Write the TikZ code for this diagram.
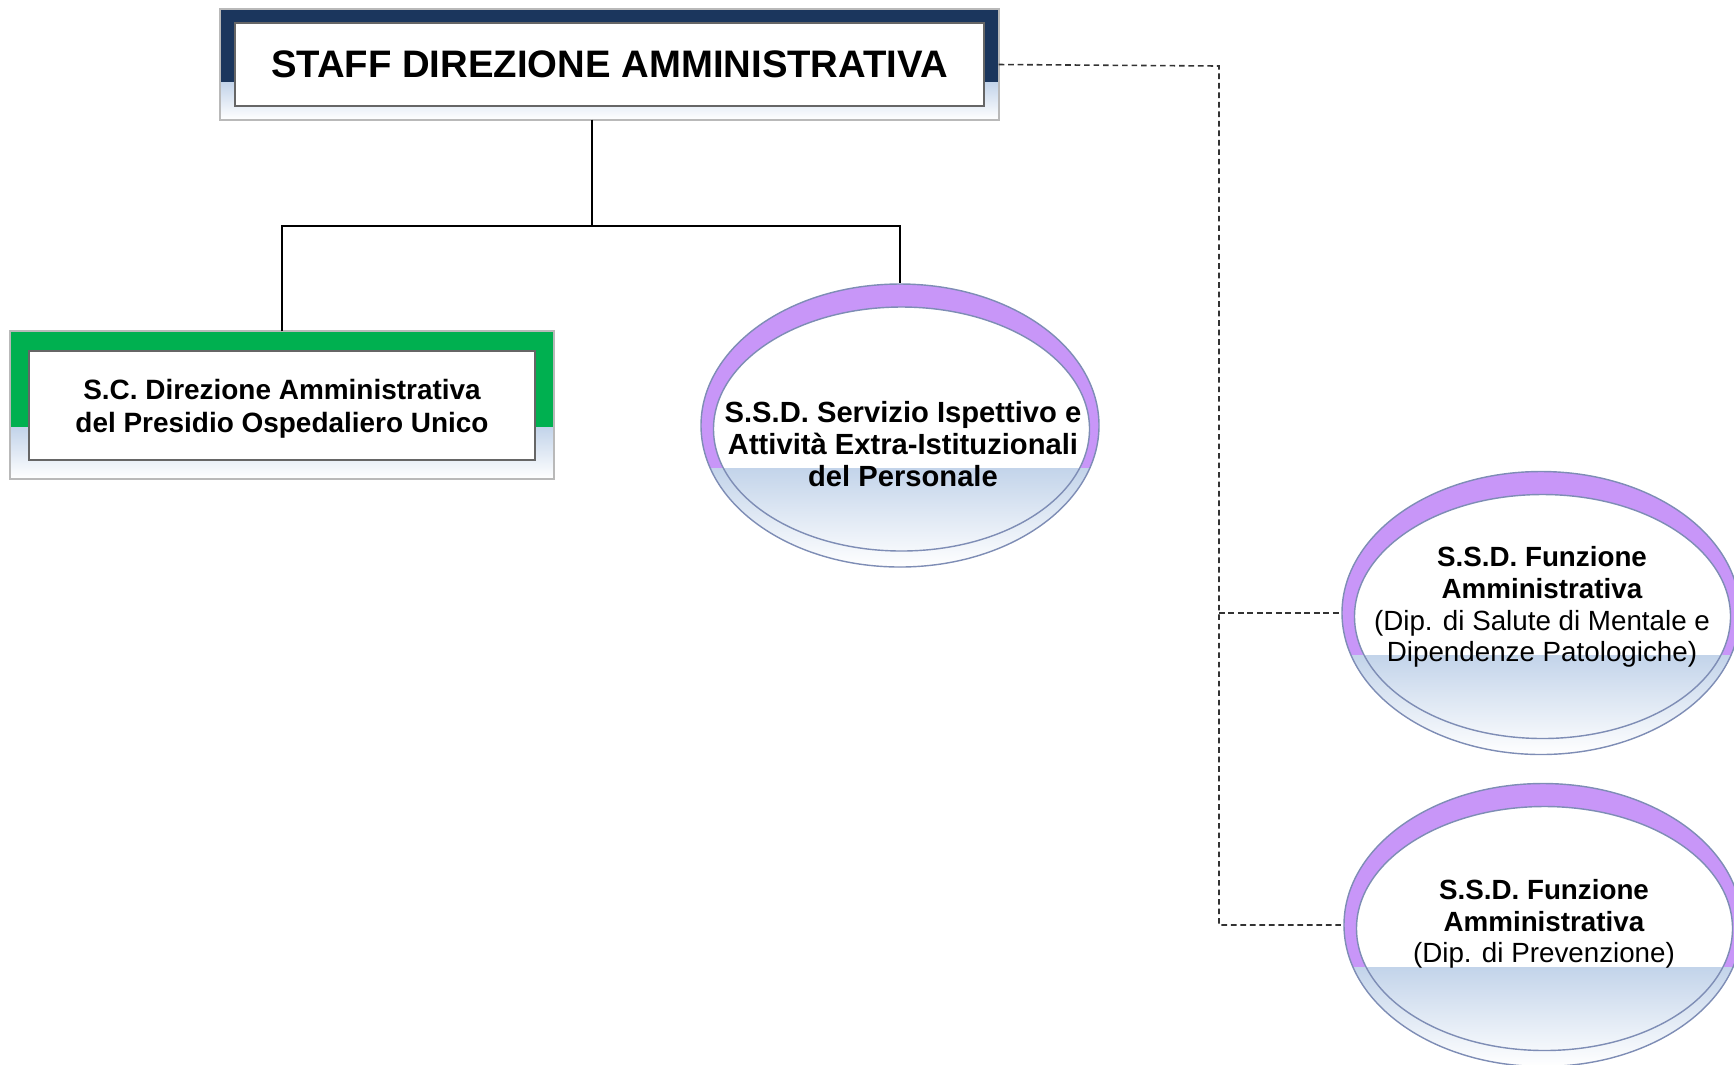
\documentclass[tikz,border=0pt]{standalone}
\usepackage{fontspec}
\setmainfont{Liberation Sans}
\usetikzlibrary{shapes.geometric,calc}
\definecolor{navy}{HTML}{1B365D}
\definecolor{sgreen}{HTML}{00B050}
\definecolor{lilac}{HTML}{C896F8}
\definecolor{pale}{HTML}{C3D4EA}
\definecolor{rim}{HTML}{7E8DB5}
\tikzset{
  box/.style={draw=gray!55, line width=0.6pt},
  inbox/.style={draw=gray!80!black, fill=white, line width=0.6pt, align=center},
  link/.style={line width=0.5pt},
  dlink/.style={line width=0.45pt, draw=black!80, dash pattern=on 1.6pt off 1.1pt},
  ring/.style={ellipse, minimum width=3.98cm, minimum height=2.83cm, inner sep=0pt},
  txt/.style={align=center, inner sep=0pt},
}
% ring shaped unit with lilac rim and pale lower half
\newcommand{\ssdring}[2]{%
  \node[ring] (#1) at (#2) {};
  \begin{scope}
    \clip (#1.center) ellipse [x radius=1.99, y radius=1.415];
    \fill[lilac] (#1.center) ellipse [x radius=1.99, y radius=1.415];
    \fill[white] ($(#1.center)+(0.015,-0.035)$) ellipse [x radius=1.88, y radius=1.22];
    \shade[top color=pale, bottom color=white] ($(#1.center)+(-2,-0.425)$) rectangle ($(#1.center)+(2,-1.42)$);
  \end{scope}
  \draw[rim, line width=0.4pt] ($(#1.center)+(0.015,-0.035)$) ellipse [x radius=1.88, y radius=1.22];
  \draw[rim, line width=0.4pt] (#1.center) ellipse [x radius=1.99, y radius=1.415];
}
\begin{document}
\begin{tikzpicture}
  \useasboundingbox (0,0) rectangle (17.34,-10.64);
  % top box
  \node[minimum width=7.77cm, minimum height=1.09cm, inner sep=0pt] (staff) at (6.095,-0.645) {};
  \fill[navy] (staff.north west) rectangle ($(staff.north east)+(0,-0.73)$);
  \shade[top color=pale, bottom color=white] ($(staff.north west)+(0,-0.73)$) rectangle (staff.south east);
  \draw[box] (staff.north west) rectangle (staff.south east);
  \node[inbox, minimum width=7.49cm, minimum height=0.83cm, font=\fontsize{10.9}{12}\selectfont\bfseries] (stafftxt) at (staff) {STAFF DIREZIONE AMMINISTRATIVA};
  % green box
  \node[minimum width=5.42cm, minimum height=1.46cm, inner sep=0pt] (scdir) at (2.82,-4.05) {};
  \fill[sgreen] (scdir.north west) rectangle ($(scdir.north east)+(0,-0.96)$);
  \shade[top color=pale, bottom color=white] ($(scdir.north west)+(0,-0.96)$) rectangle (scdir.south east);
  \draw[box] (scdir.north west) rectangle (scdir.south east);
  \node[inbox, minimum width=5.06cm, minimum height=1.09cm, font=\fontsize{7.95}{9.4}\selectfont\bfseries] (scdirtxt) at (2.82,-4.055) {};
  \node[txt, font=\fontsize{7.95}{9.4}\selectfont\bfseries] (scdirlbl) at (2.82,-4.09) {S.C. Direzione Amministrativa\\del Presidio Ospedaliero Unico};
  % ellipses
  \ssdring{ssd1}{9.00,-4.255}
  \ssdring{ssd2}{15.41,-6.13}
  \ssdring{ssd3}{15.43,-9.25}
  \node[txt, font=\fontsize{8.3}{9}\selectfont\bfseries] (ssd1txt) at (9.03,-4.44) {S.S.D. Servizio Ispettivo e\\Attività Extra-Istituzionali\\del Personale};
  \node[txt, font=\fontsize{7.9}{9}\selectfont] (ssd2txt) at (15.42,-6.07) {\textbf{S.S.D. Funzione}\\\textbf{Amministrativa}\\(Dip. di Salute di Mentale e\\Dipendenze Patologiche)};
  \node[txt, font=\fontsize{7.9}{9}\selectfont] (ssd3txt) at (15.44,-9.24) {\textbf{S.S.D. Funzione}\\\textbf{Amministrativa}\\(Dip. di Prevenzione)};
  % connectors
  \coordinate (hub) at (5.92,-2.26);
  \coordinate (bus) at (12.19,-0.66);
  \draw[link] (staff.south -| hub) -- (hub);
  \draw[link] (scdir.north) -- (scdir.north |- hub) -- (ssd1.north |- hub) -- (ssd1.north);
  \draw[dlink] (staff.east) -- (bus) -- (bus |- ssd3.west) -- (ssd3.west);
  \draw[dlink] (bus |- ssd2.west) -- (ssd2.west);
\end{tikzpicture}
\end{document}
